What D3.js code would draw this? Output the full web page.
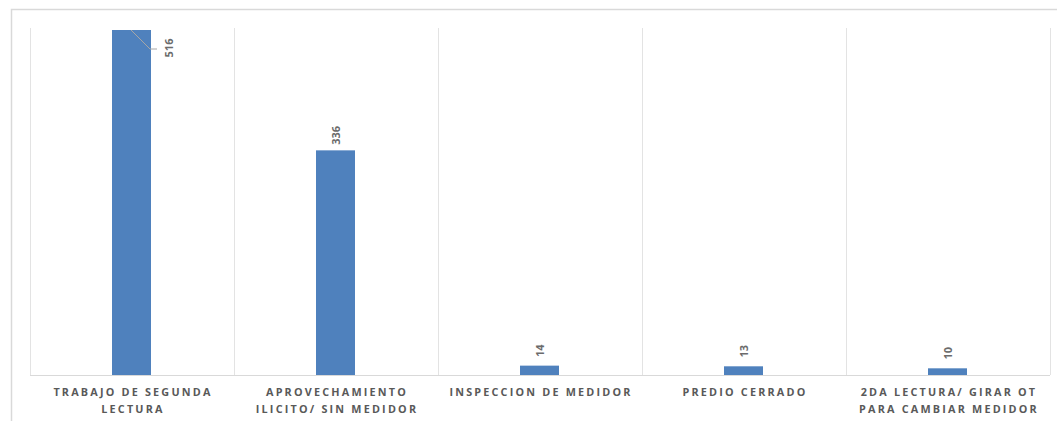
<!DOCTYPE html>
<html><head><meta charset="utf-8">
<script src="https://cdn.jsdelivr.net/npm/d3@7"></script>
<style>body{margin:0;background:#fff;} svg{display:block;}</style>
</head><body>
<svg id="c" width="1057" height="421"></svg>
<script>
const categories = [
  ["TRABAJO DE SEGUNDA","LECTURA"],
  ["APROVECHAMIENTO","ILICITO/ SIN MEDIDOR"],
  ["INSPECCION DE MEDIDOR"],
  ["PREDIO CERRADO"],
  ["2DA LECTURA/ GIRAR OT","PARA CAMBIAR MEDIDOR"]
];
const values = [516, 336, 14, 13, 10];
const keys = categories.map((c,i)=>"c"+i);

(function(){
const svg = d3.select("#c");
svg.append("path").attr("d","M11.5,421 L11.5,9.5 L1057,9.5").attr("fill","none").attr("stroke","#d9d9d9").attr("stroke-width",1.5);

const pl=30, pr=1050, pt=30, pb=375;
const x = d3.scaleBand().domain(keys).range([pl,pr]).paddingInner(0).paddingOuter(0);
const y = d3.scaleLinear().domain([0,516]).range([pb,pt]);

const bounds = keys.map(k=>x(k)).concat([pr]);
svg.append("g").selectAll("line").data(bounds).join("line")
  .attr("x1",d=>Math.round(d)+0.5).attr("x2",d=>Math.round(d)+0.5)
  .attr("y1",pt-2).attr("y2",pb)
  .attr("stroke","#e3e3e3").attr("stroke-width",1);

svg.append("line").attr("x1",pl).attr("x2",pr).attr("y1",pb+0.5).attr("y2",pb+0.5)
  .attr("stroke","#d9d9d9").attr("stroke-width",1);

const bw = 39;
svg.append("g").selectAll("rect").data(values).join("rect")
  .attr("x",(d,i)=>x(keys[i])+x.bandwidth()/2-bw/2-0.5)
  .attr("width",bw)
  .attr("y",d=>y(d))
  .attr("height",d=>pb-y(d))
  .attr("fill","#4f81bd");

values.forEach((v,i)=>{
  const cx = x(keys[i])+x.bandwidth()/2;
  let lx, ly;
  if(i===0){
    lx = cx+41; ly = y(v)+18;
    svg.append("polyline")
      .attr("points",`${cx-1},${y(v)} ${cx+18},${y(v)+19} ${cx+25},${y(v)+19}`)
      .attr("fill","none").attr("stroke","#a6a6a6").attr("stroke-width",1);
  } else {
    lx = cx+4; ly = y(v)-15;
  }
  svg.append("text")
    .attr("transform",`translate(${lx},${ly}) rotate(-90)`)
    .attr("text-anchor","middle")
    .attr("font-family","Open Sans, Liberation Sans, sans-serif")
    .attr("font-weight","bold").attr("font-size",11)
    .attr("fill","#6b6b6b")
    .text(v);
});

const g = svg.append("g");
categories.forEach((lines,i)=>{
  const cx = x(keys[i])+x.bandwidth()/2;
  lines.forEach((t,j)=>{
    g.append("text")
      .attr("x",cx+1).attr("y",396+j*17)
      .attr("text-anchor","middle")
      .attr("font-family","Open Sans, Liberation Sans, sans-serif")
      .attr("font-weight","bold").attr("font-size",10.8)
      .attr("letter-spacing","2.2px")
      .attr("fill","#595959")
      .text(t);
  });
});
})();
</script>
</body></html>
